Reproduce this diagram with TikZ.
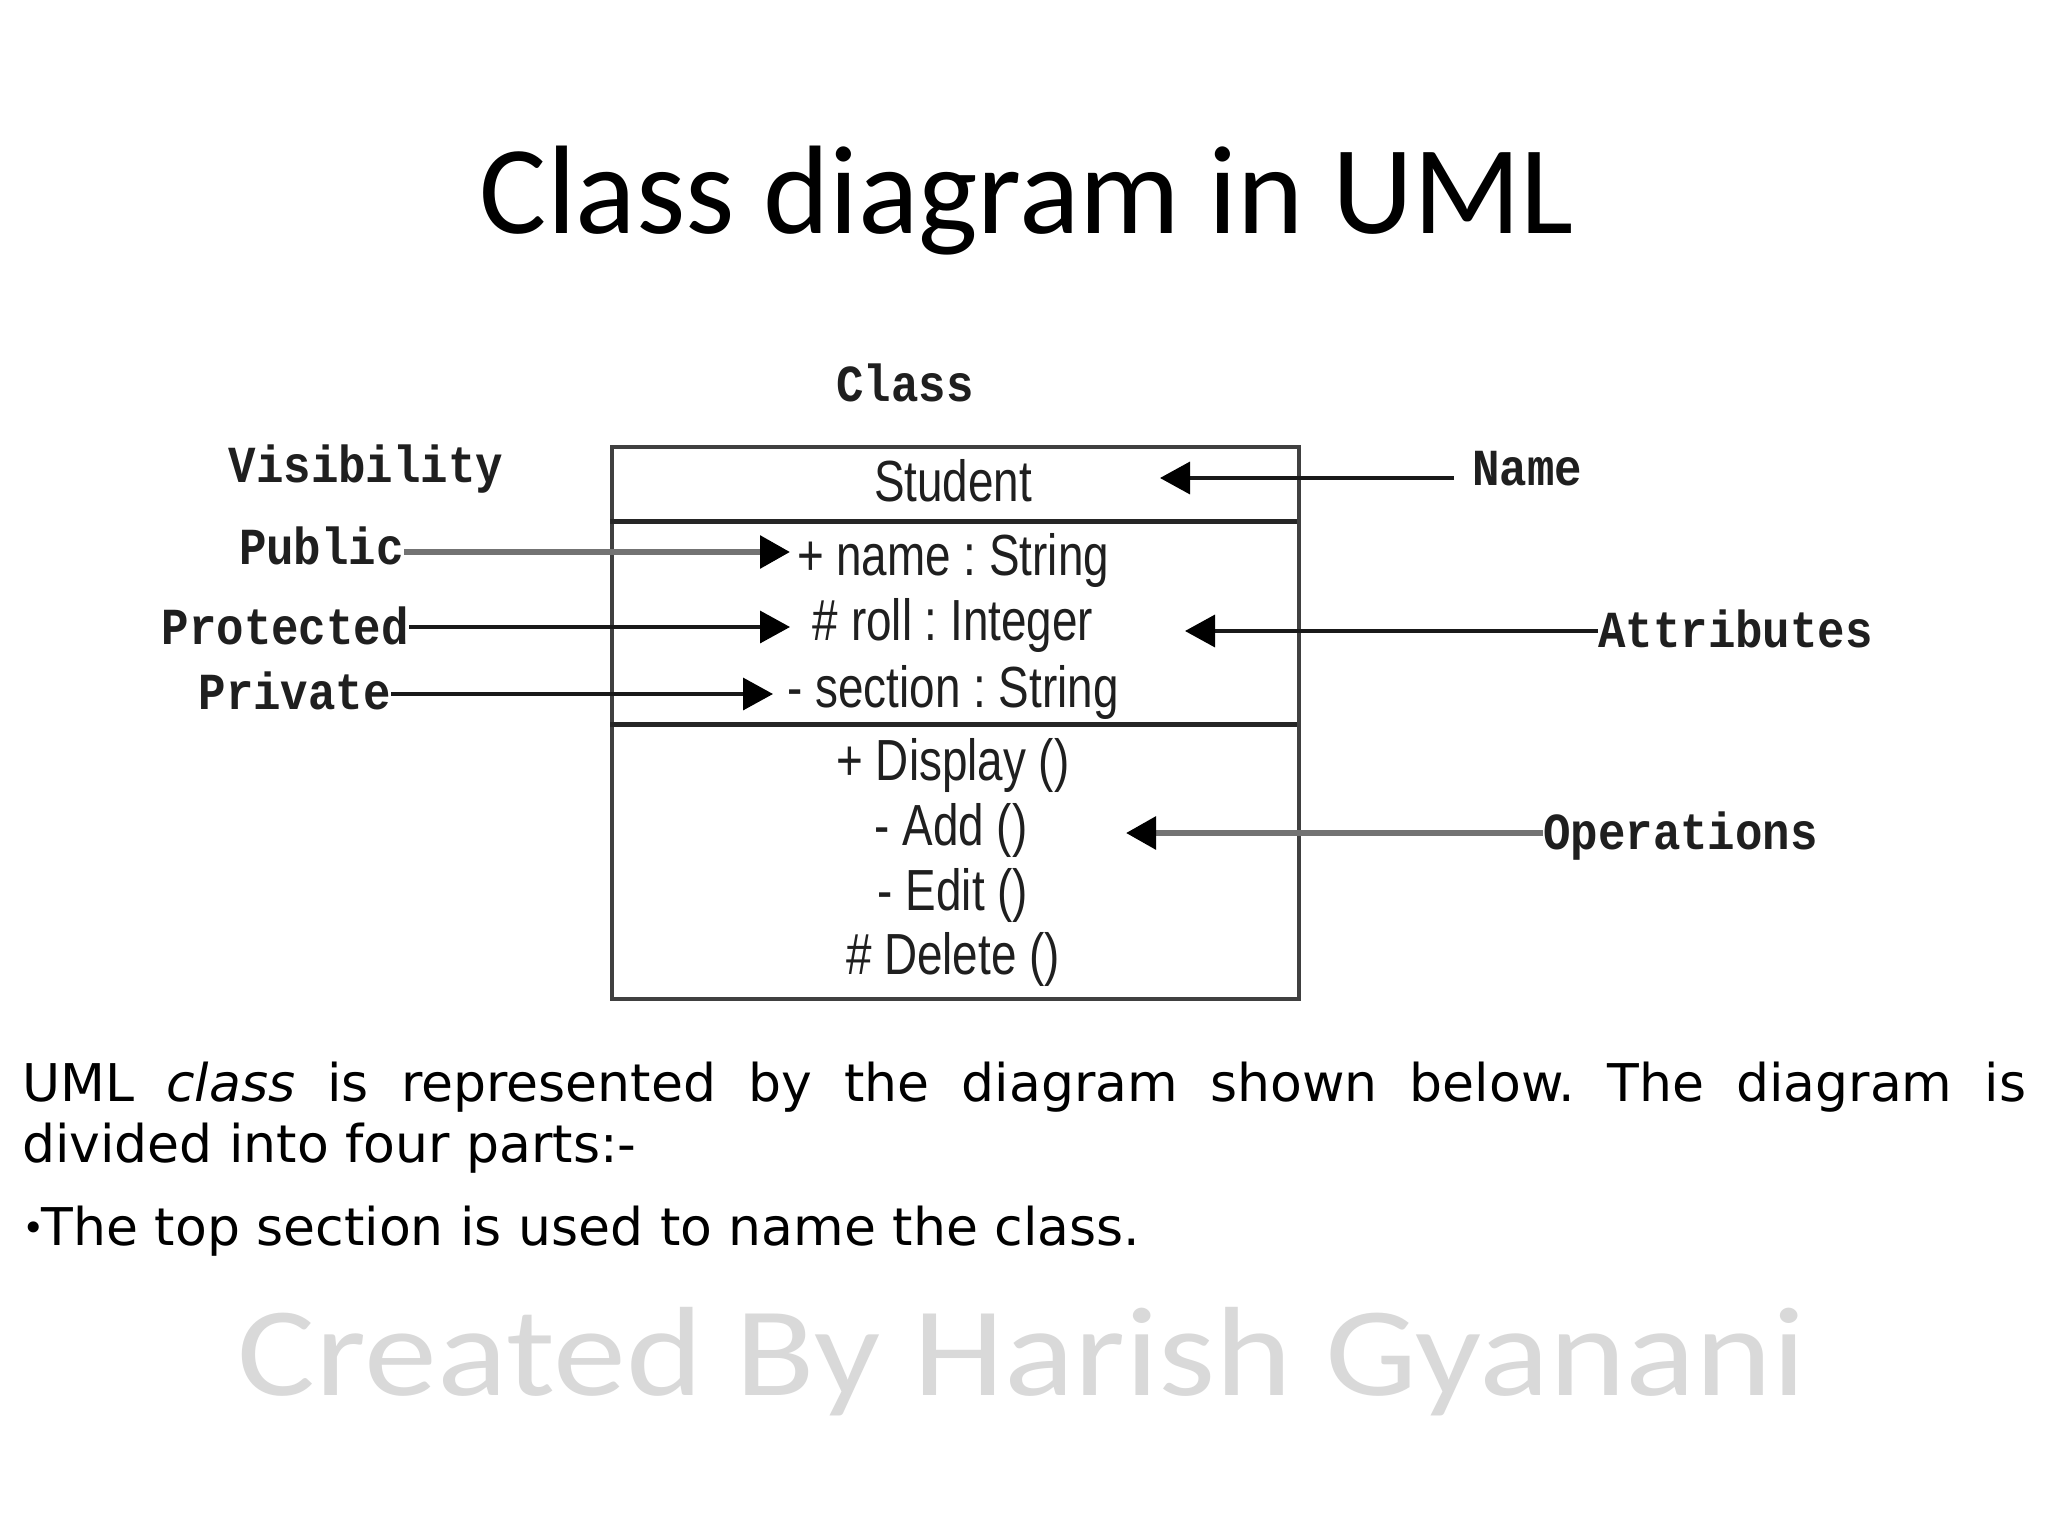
\documentclass[tikz,border=0pt]{standalone}
\usepackage{fontspec}
\usetikzlibrary{arrows.meta}
\setmainfont{DejaVu Sans}
\newfontfamily\calib{Carlito}
\newfontfamily\calibwide[FakeStretch=1.15]{Carlito}
\newfontfamily\monob[FakeStretch=0.88]{Liberation Mono}
\newfontfamily\arialn[FakeStretch=0.79]{Liberation Sans}
\frenchspacing
\begin{document}
\begin{tikzpicture}[x=1pt,y=-1pt,
  boxtxt/.style={font=\arialn\fontsize{58}{60}\selectfont, text=black!88, inner sep=0pt, anchor=base},
  lbl/.style={font=\monob\bfseries\fontsize{52}{54}\selectfont, text=black!88, inner sep=0pt},
  tip/.style={-{Triangle[length=30pt,width=32pt,color=black]}},
  darkarrow/.style={tip, draw=black!90, line width=3.5pt},
  grayarrow/.style={tip, draw=black!55, line width=6pt},
  classframe/.style={draw=black!75, line width=4pt},
  divider/.style={draw=black!85, line width=5pt},
  para/.style={font=\fontsize{52}{60}\selectfont, inner sep=0pt, anchor=base west},
]
\fill[white] (0,0) rectangle (2048,1536);
\useasboundingbox (0,0) rectangle (2048,1536);

% title
\node[font=\calib\fontsize{126}{126}\selectfont, anchor=base, inner sep=0pt] (title) at (1027,233) {Class diagram in UML};

% class box
\node[classframe, minimum width=687pt, minimum height=552pt, inner sep=0pt, anchor=north west] (box) at (610,445) {};
\draw[divider] (610,521) -- (1297,521);
\draw[divider] (610,724) -- (1297,724);

\node[boxtxt] (student) at (953,501) {Student};
\node[boxtxt] (aname) at (953,575) {+ name : String};
\node[boxtxt] (aroll) at (953,640) {\# roll : Integer};
\node[boxtxt] (asect) at (953,707) {- section : String};
\node[boxtxt] (odisp) at (953,780) {+ Display ()};
\node[boxtxt] (oadd) at (951,845) {- Add ()};
\node[boxtxt] (oedit) at (953,910) {- Edit ()};
\node[boxtxt] (odel) at (953,974) {\# Delete ()};

% labels
\node[lbl, anchor=base] (cls) at (905,401) {Class};
\node[lbl, anchor=base] (vis) at (366,482) {Visibility};
\node[lbl, anchor=base east] (public) at (404,564) {Public};
\node[lbl, anchor=base east] (protected) at (409,644) {Protected};
\node[lbl, anchor=base east] (private) at (391,709) {Private};
\node[lbl, anchor=base west] (name) at (1472,485) {Name};
\node[lbl, anchor=base west] (attr) at (1598,647) {Attributes};
\node[lbl, anchor=base west] (ops) at (1543,849) {Operations};

% arrow tips
\coordinate (tpub) at (790,552);
\coordinate (tpro) at (790,627);
\coordinate (tpri) at (773,694);
\coordinate (tname) at (1160,478);
\coordinate (tattr) at (1185,631);
\coordinate (tops) at (1126,833);

\draw[grayarrow] (public.east |- tpub) -- (tpub);
\draw[darkarrow] (protected.east |- tpro) -- (tpro);
\draw[darkarrow] (private.east |- tpri) -- (tpri);
\draw[darkarrow] ([xshift=-18pt]name.west |- tname) -- (tname);
\draw[darkarrow] (attr.west |- tattr) -- (tattr);
\draw[grayarrow] (ops.west |- tops) -- (tops);

% text
\node[para] (p1) at (22,1101) {\makebox[2004pt][s]{UML \textit{class} is represented by the diagram shown below. The diagram is}};
\node[para] (p2) at (22,1162) {divided into four parts:-};
\node[para] (p3) at (22,1245) {\raisebox{4pt}{\fontsize{38}{38}\selectfont •}\kern-3pt The top section is used to name the class.};

% watermark
\node[font=\calibwide\fontsize{127}{127}\selectfont, text=black!15, anchor=base, inner sep=0pt] (wm) at (1022,1395) {Created By Harish Gyanani};
\end{tikzpicture}
\end{document}
